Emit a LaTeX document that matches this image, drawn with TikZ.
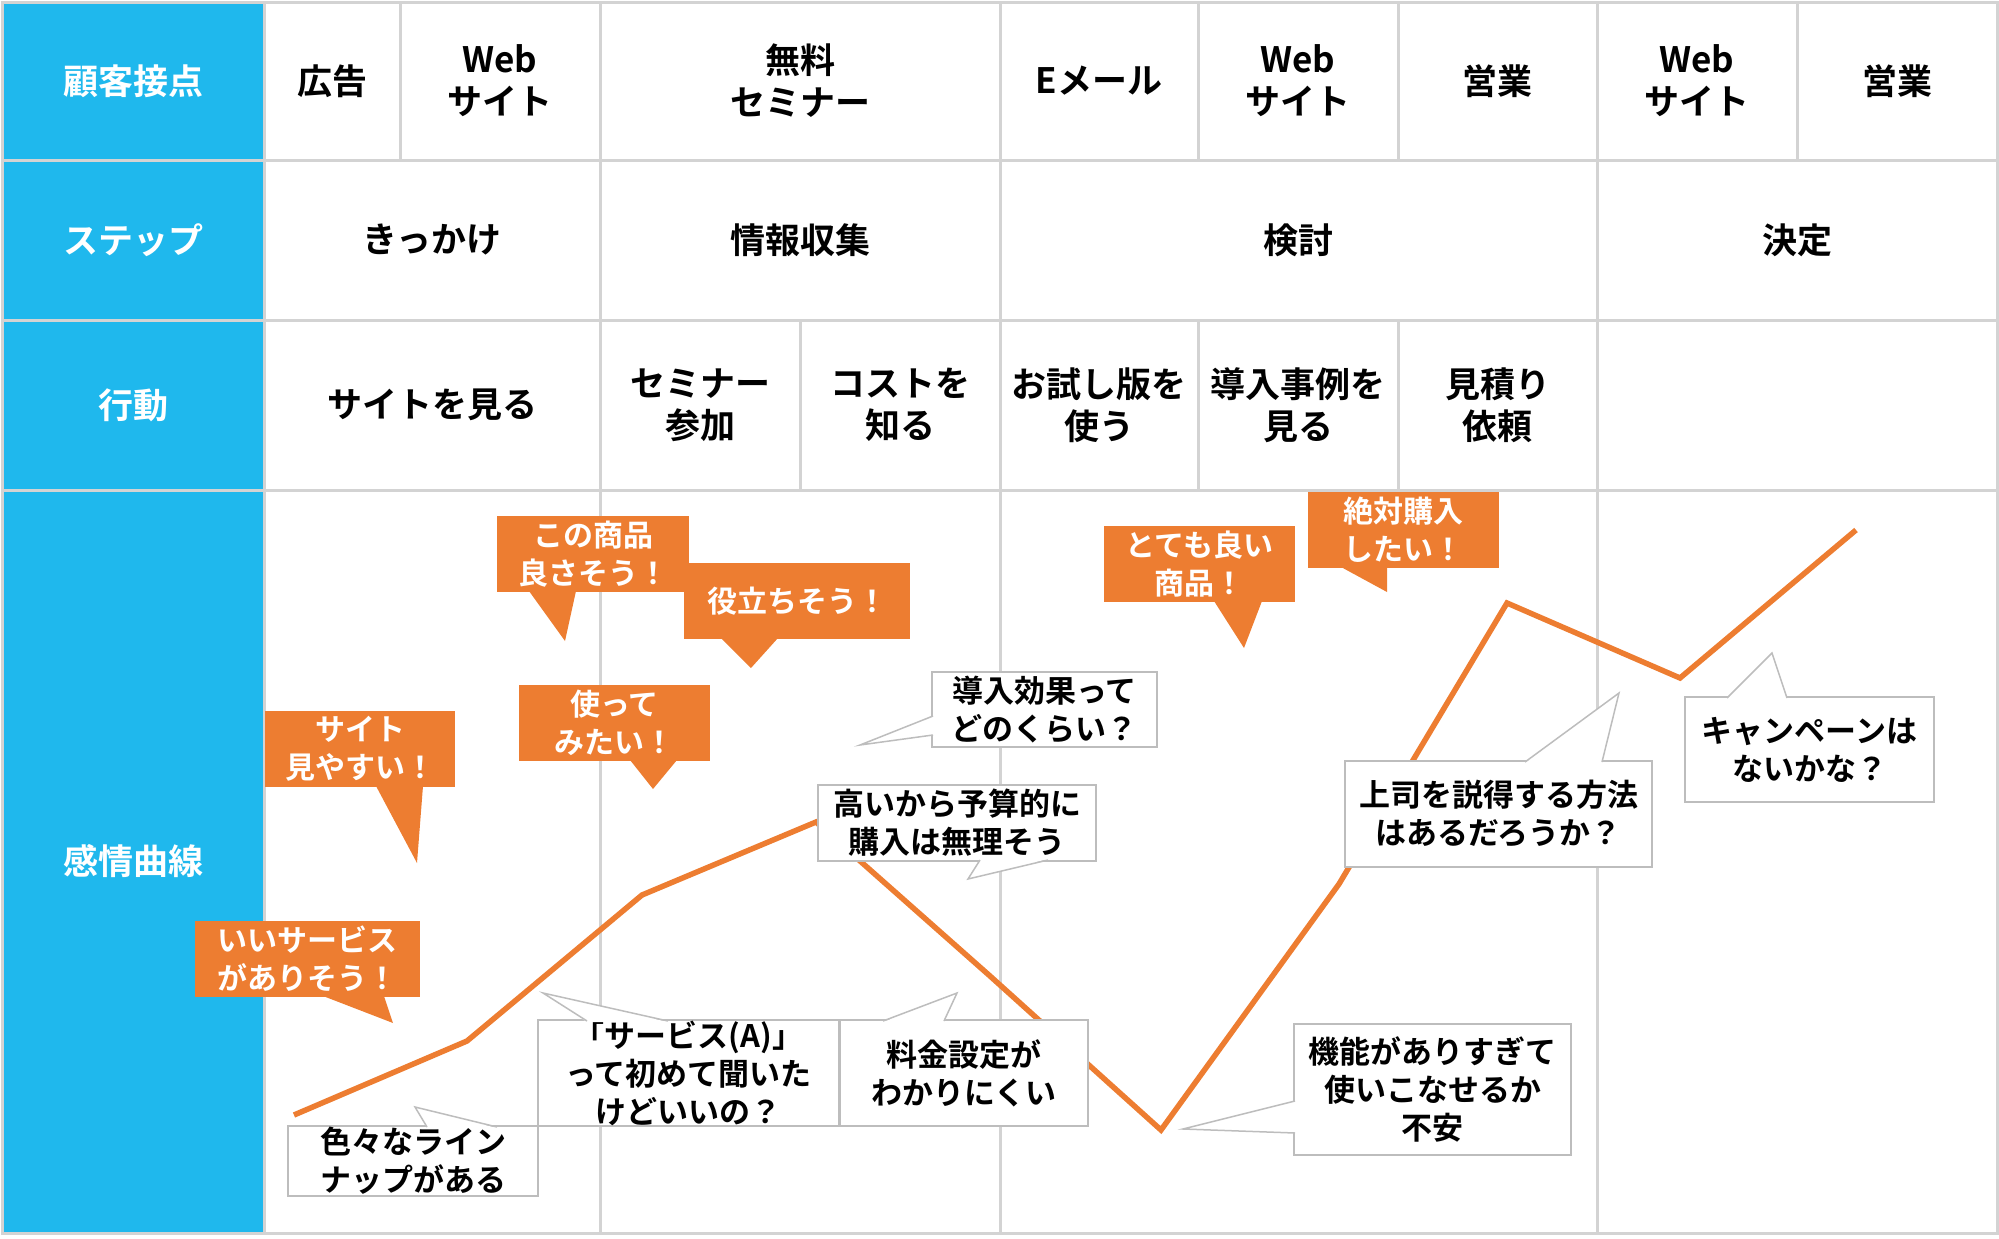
\documentclass[tikz,border=0pt]{standalone}
\usepackage{fontspec}
\setmainfont{Noto Sans CJK JP}[BoldFont={Noto Sans CJK JP Bold}]
\definecolor{cjblue}{HTML}{1FB8ED}
\definecolor{cjorange}{HTML}{ED7D31}
\definecolor{cjgrid}{HTML}{D3D3D3}
\definecolor{cjbord}{HTML}{BDBDBD}
\begin{document}
\begin{tikzpicture}[x=0.5pt, y=-0.5pt, line join=miter,
    gridline/.style={draw=cjgrid, line width=1.5pt},
    head/.style={text=white, font=\bfseries\fontsize{17.5}{21}\selectfont, align=center},
    cell/.style={text=black, font=\bfseries\fontsize{17.5}{21}\selectfont, align=center},
    hot/.style={fill=cjorange, text=white, inner sep=0pt, align=center,
        font=\bfseries\fontsize{15}{19}\selectfont},
    note/.style={fill=white, draw=cjbord, line width=0.75pt, inner sep=0pt, align=center,
        font=\bfseries\fontsize{15.5}{19}\selectfont},
    pointer/.style={draw=cjbord, line width=0.75pt},
    curve/.style={draw=cjorange, line width=2.75pt}]
    \useasboundingbox (0,0) rectangle (1999,1238);

    \fill[cjblue] (2,2) rectangle (264,1233);
    \draw[gridline] (2,2) rectangle (1997,1233);
    \foreach \y in {160,320,490}
        \draw[gridline] (2,\y) -- (1997,\y);
    \foreach \x in {264,600,1000,1597}
        \draw[gridline] (\x,2) -- (\x,1233);
    \foreach \x in {400,1198,1398,1797}
        \draw[gridline] (\x,2) -- (\x,160);
    \foreach \x in {800,1198,1398}
        \draw[gridline] (\x,320) -- (\x,490);

    \node[head] (h1) at (133,81) {顧客接点};
    \node[head] (h2) at (133,240) {ステップ};
    \node[head] (h3) at (133,405) {行動};
    \node[head] (h4) at (133,861) {感情曲線};

    \foreach \x/\txt [count=\i] in {332/広告, 500/{Web\\サイト}, 800/{無料\\セミナー},
            1099/Eメール, 1298/{Web\\サイト}, 1497.5/営業, 1697/{Web\\サイト}, 1897/営業}
        \node[cell] (a\i) at (\x,81) {\txt};
    \foreach \x/\txt [count=\i] in {432/きっかけ, 800/情報収集, 1298.5/検討, 1797/決定}
        \node[cell] (b\i) at (\x,240) {\txt};
    \foreach \x/\txt [count=\i] in {432/サイトを見る, 700/{セミナー\\参加}, 900/{コストを\\知る},
            1099/{お試し版を\\使う}, 1298/{導入事例を\\見る}, 1497.5/{見積り\\依頼}}
        \node[cell] (d\i) at (\x,405) {\txt};

    \foreach \x/\y [count=\i] in {294/1115, 467/1041, 642/895, 816/822, 990/976,
            1161/1130, 1339/884, 1507/603, 1680/678, 1856/530}
        \coordinate (p\i) at (\x,\y);
    \draw[curve] (p1) \foreach \i in {2,...,10} { -- (p\i) };

    \node[hot, minimum width=95pt, minimum height=38pt] (c1) at (360,749) {サイト\\見やすい！};
    \coordinate (t1) at (417,863);
    \fill[cjorange] (376,786) -- (t1) -- (423,786) -- cycle;

    \node[hot, minimum width=96pt, minimum height=38pt] (c2) at (593,554) {この商品\\良さそう！};
    \coordinate (t2) at (565,641);
    \fill[cjorange] (529,591) -- (t2) -- (576,591) -- cycle;

    \node[hot, minimum width=113pt, minimum height=38pt] (c3) at (797,601) {役立ちそう！};
    \coordinate (t3) at (751,668);
    \fill[cjorange] (721,638) -- (t3) -- (778,638) -- cycle;

    \node[hot, minimum width=95.5pt, minimum height=38pt] (c4) at (614.5,723) {使って\\みたい！};
    \coordinate (t4) at (653,789);
    \fill[cjorange] (630,760) -- (t4) -- (677,760) -- cycle;

    \node[hot, minimum width=112.5pt, minimum height=38pt] (c5) at (307.5,959) {いいサービス\\がありそう！};
    \coordinate (t5) at (393,1023);
    \fill[cjorange] (323,996) -- (t5) -- (384,996) -- cycle;

    \node[hot, minimum width=95.5pt, minimum height=38pt] (c6) at (1199.5,564) {とても良い\\商品！};
    \coordinate (t6) at (1244,648);
    \fill[cjorange] (1214,601) -- (t6) -- (1262,601) -- cycle;

    \node[hot, minimum width=95.5pt, minimum height=38pt] (c7) at (1403.5,530) {絶対購入\\したい！};
    \coordinate (t7) at (1387,592);
    \fill[cjorange] (1341,567) -- (t7) -- (1387,567) -- cycle;

    \node[note, minimum width=125pt, minimum height=35pt] (c8) at (413,1161) {色々なライン\\ナップがある};
    \coordinate (t8) at (415,1107);
    \fill[white] (427,1128) -- (t8) -- (497,1128) -- cycle;
    \draw[pointer] (427,1127) -- (t8) -- (497,1127);

    \node[note, minimum width=150.5pt, minimum height=53pt] (c9) at (688.5,1073) {「サービス(A)」\\って初めて聞いた\\けどいいの？};
    \coordinate (t9) at (543,993);
    \fill[white] (587,1022) -- (t9) -- (668,1022) -- cycle;
    \draw[pointer] (587,1021) -- (t9) -- (668,1021);

    \node[note, minimum width=124pt, minimum height=53pt] (c10) at (964,1073) {料金設定が\\わかりにくい};
    \coordinate (t10) at (957,993);
    \fill[white] (883,1022) -- (t10) -- (944,1022) -- cycle;
    \draw[pointer] (883,1021) -- (t10) -- (944,1021);

    \node[note, minimum width=139pt, minimum height=38pt] (c11) at (957,823) {高いから予算的に\\購入は無理そう};
    \coordinate (t11) at (968,879);
    \fill[white] (980,859) -- (t11) -- (1048,859) -- cycle;
    \draw[pointer] (980,860) -- (t11) -- (1048,860);

    \node[note, minimum width=112.5pt, minimum height=37.5pt] (c12) at (1044.5,709.5) {導入効果って\\どのくらい？};
    \coordinate (t12) at (860,745);
    \fill[white] (934,716) -- (t12) -- (934,735) -- cycle;
    \draw[pointer] (933,716) -- (t12) -- (933,735);

    \node[note, minimum width=153.5pt, minimum height=53pt] (c13) at (1498.5,814) {上司を説得する方法\\はあるだろうか？};
    \coordinate (t13) at (1619,693);
    \fill[white] (1525,763) -- (t13) -- (1602,763) -- cycle;
    \draw[pointer] (1525,762) -- (t13) -- (1602,762);

    \node[note, minimum width=124.5pt, minimum height=52.5pt] (c14) at (1809.5,749.5) {キャンペーンは\\ないかな？};
    \coordinate (t14) at (1772,653);
    \fill[white] (1727,699) -- (t14) -- (1787,699) -- cycle;
    \draw[pointer] (1727,698) -- (t14) -- (1787,698);

    \node[note, minimum width=138.5pt, minimum height=65.5pt] (c15) at (1432.5,1089.5) {機能がありすぎて\\使いこなせるか\\不安};
    \coordinate (t15) at (1183,1129);
    \fill[white] (1296,1101) -- (t15) -- (1296,1133) -- cycle;
    \draw[pointer] (1295,1101) -- (t15) -- (1295,1133);
\end{tikzpicture}
\end{document}
